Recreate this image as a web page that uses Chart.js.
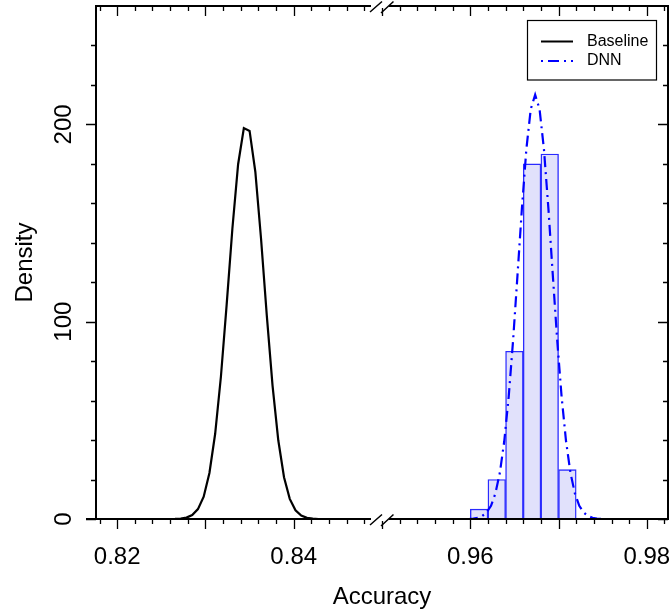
<!DOCTYPE html>
<html>
<head>
<meta charset="utf-8">
<script src="https://cdn.jsdelivr.net/npm/chart.js@4.4.1/dist/chart.umd.min.js"></script>
<style>
  html, body { margin: 0; padding: 0; background: #fff; }
  #wrap { width: 671px; height: 614px; }
</style>
</head>
<body>
<div id="wrap"><canvas id="chart" width="671" height="614"></canvas></div>
<script>
// ---- data ----
const baselineX = [0.818, 0.8259, 0.82655, 0.8272, 0.82785, 0.8285, 0.82915, 0.8298, 0.83045, 0.8311,
  0.83175, 0.8324, 0.83305, 0.8337, 0.83435, 0.835, 0.83565, 0.8363, 0.83695, 0.8376,
  0.83825, 0.8389, 0.83955, 0.8402, 0.84085, 0.8415, 0.84215, 0.8428, 0.85];
const baselineY = [0, 0, 0.05, 0.2, 0.7, 2.0, 5.0, 11.3, 23.3, 43.2,
  72.1, 108.5, 147.1, 179.8, 198.1, 196.7, 176.0, 141.9, 103.1, 67.6,
  39.9, 21.2, 10.2, 4.4, 1.7, 0.6, 0.2, 0, 0];

const dnnX = [0.951, 0.95985, 0.96035, 0.96085, 0.96135, 0.96185, 0.96235, 0.96285, 0.96335, 0.96385,
  0.96435, 0.96485, 0.96535, 0.96585, 0.96635, 0.96685, 0.96735, 0.96785, 0.96835, 0.96885,
  0.96935, 0.96985, 0.97035, 0.97085, 0.97135, 0.97185, 0.97235, 0.97285, 0.97335, 0.97385,
  0.97435, 0.97485, 0.982];
const dnnY = [0, 0, 0.2, 0.6, 1.5, 3.3, 6.7, 13.0, 23.4, 39.4,
  61.8, 90.5, 123.6, 157.4, 187.2, 207.7, 215, 207.7, 187.2, 157.4,
  123.6, 90.5, 61.8, 39.4, 23.4, 13.0, 6.7, 3.3, 1.5, 0.6,
  0.2, 0, 0];

// histogram of DNN accuracies (bin centres, width 0.002)
const histMid = [0.961, 0.963, 0.965, 0.967, 0.969, 0.971];
const histDensity = [5, 20, 85, 180, 185, 25];

const xTickAt = [0.82, 0.84, 0.96, 0.98];
const xTickLabels = ['0.82', '0.84', '0.96', '0.98'];
const yTickAt = [0, 100, 200];
const yTickLabels = ['0', '100', '200'];

// axis break: everything above the gap is shifted left by 0.1
const GAP_AT = 0.85, SHIFT = 0.1;
const brk = v => (v > 0.9 ? v - SHIFT : v);

const FONT = "'Liberation Sans', Arial, sans-serif";
Chart.defaults.font.family = FONT;
Chart.defaults.color = '#000';

function near(a, b) { return Math.abs(a - b) < 1e-7; }

// no extra room for overflowing tick labels
function noPad(s) {
    s.paddingTop = 0; s.paddingBottom = 0; s.paddingLeft = 0; s.paddingRight = 0;
}

// tick marks, frame with break, legend
const framePlugin = {
    id: 'frame',
    afterDraw(chart) {
        const ctx = chart.ctx;
        const { left, right, top, bottom } = chart.chartArea;
        const xs = chart.scales.x, ys = chart.scales.y;
        ctx.save();
        ctx.strokeStyle = '#000';
        ctx.lineCap = 'butt';

        // ticks
        ctx.lineWidth = 1.3;
        ctx.beginPath();
        xs.ticks.forEach(t => {
            const px = Math.round(xs.getPixelForValue(t.value)) + 0.5;
            const major = near(t.value * 100, Math.round(t.value * 100));
            const len = major ? 10 : 5;
            ctx.moveTo(px, bottom); ctx.lineTo(px, bottom + len);
            ctx.moveTo(px, top); ctx.lineTo(px, top + len);
        });
        ys.ticks.forEach(t => {
            const py = Math.round(ys.getPixelForValue(t.value)) + 0.5;
            const len = t.value % 100 === 0 ? 10 : 5;
            ctx.moveTo(left - len, py); ctx.lineTo(left, py);
            ctx.moveTo(right - len, py); ctx.lineTo(right, py);
        });
        ctx.stroke();

        // frame, with a gap at the break
        const gx = xs.getPixelForValue(GAP_AT);
        const gl = gx - 11, gr = gx + 7;
        ctx.fillStyle = '#fff';
        ctx.fillRect(gl, bottom - 2, gr - gl, 4);
        ctx.fillRect(gl, top - 2, gr - gl, 4);
        ctx.lineWidth = 2;
        ctx.beginPath();
        ctx.moveTo(left, top); ctx.lineTo(left, bottom + 1);
        ctx.moveTo(right, top - 1); ctx.lineTo(right, bottom + 1);
        ctx.moveTo(left - 1, top); ctx.lineTo(gl, top);
        ctx.moveTo(gr, top); ctx.lineTo(right + 1, top);
        ctx.moveTo(left - 10, bottom); ctx.lineTo(gl, bottom);
        ctx.moveTo(gr, bottom); ctx.lineTo(right + 1, bottom);
        ctx.stroke();

        // break slashes
        ctx.lineWidth = 1.5;
        ctx.beginPath();
        [top, bottom].forEach(y => {
            ctx.moveTo(gx - 12, y + 6); ctx.lineTo(gx, y - 4.5);
            ctx.moveTo(gx - 1, y + 7); ctx.lineTo(gx + 11.5, y - 4.5);
        });
        ctx.stroke();

        // legend
        const lx = 527.5, ly = 20.5, lw = 129, lh = 59.5;
        ctx.lineWidth = 1.2;
        ctx.strokeRect(lx, ly, lw, lh);
        const rows = [
            { ds: chart.data.datasets[0], y: 41.5 },
            { ds: chart.data.datasets[1], y: 61 }
        ];
        ctx.font = '16px ' + FONT;
        ctx.textBaseline = 'middle';
        ctx.textAlign = 'left';
        rows.forEach(r => {
            ctx.strokeStyle = r.ds.borderColor;
            ctx.lineWidth = 2;
            ctx.setLineDash(r.ds.borderDash || []);
            ctx.beginPath();
            ctx.moveTo(541, r.y); ctx.lineTo(573, r.y);
            ctx.stroke();
            ctx.setLineDash([]);
            ctx.fillStyle = '#000';
            ctx.fillText(r.ds.label, 587, r.y);
        });
        ctx.restore();
    }
};

const xTicks = [];
for (let i = 409; i <= 441; i++) xTicks.push(i / 500);
const yTicks = [];
for (let v = 0; v <= 240; v += 20) yTicks.push(v);

new Chart(document.getElementById('chart').getContext('2d'), {
    data: {
        datasets: [
            {
                type: 'line',
                label: 'Baseline',
                data: baselineX.map((x, i) => ({ x: brk(x), y: baselineY[i] })),
                borderColor: '#000',
                borderWidth: 2.2,
                pointRadius: 0,
                tension: 0,
                fill: false,
                order: 1
            },
            {
                type: 'line',
                label: 'DNN',
                data: dnnX.map((x, i) => ({ x: brk(x), y: dnnY[i] })),
                borderColor: '#0000ff',
                borderWidth: 2.2,
                borderDash: [2, 5, 11, 5],
                pointRadius: 0,
                tension: 0,
                fill: false,
                order: 0
            },
            {
                type: 'bar',
                label: 'hist',
                data: histMid.map((x, i) => ({ x: brk(x), y: histDensity[i] })),
                backgroundColor: '#e1e1fb',
                borderColor: '#2a2aff',
                borderWidth: 1.4,
                borderSkipped: 'bottom',
                barPercentage: 1,
                categoryPercentage: 1,
                order: 2
            }
        ]
    },
    options: {
        responsive: false,
        animation: false,
        devicePixelRatio: 1,
        layout: { padding: { left: 0, right: 3, top: 6, bottom: 0 } },
        plugins: { legend: { display: false }, tooltip: { enabled: false } },
        scales: {
            x: {
                type: 'linear',
                position: 'bottom',
                offset: false,
                min: 0.8176,
                max: 0.8824,
                afterBuildTicks: s => { s.ticks = xTicks.map(v => ({ value: v })); },
                afterFit: s => { s.height = 95; noPad(s); },
                grid: { display: false, drawTicks: false, offset: false },
                border: { display: false },
                ticks: {
                    autoSkip: false,
                    maxRotation: 0,
                    padding: 24,
                    font: { size: 24 },
                    callback: v => {
                        const k = xTickAt.findIndex(a => near(brk(a), v));
                        return k >= 0 ? xTickLabels[k] : '';
                    }
                },
                title: { display: true, text: 'Accuracy', font: { size: 24 }, padding: { top: 0, bottom: 2 } }
            },
            y: {
                type: 'linear',
                min: 0,
                max: 260,
                afterBuildTicks: s => { s.ticks = yTicks.map(v => ({ value: v })); },
                afterFit: s => { s.width = 96; noPad(s); },
                grid: { display: false, drawTicks: false },
                border: { display: false },
                ticks: {
                    autoSkip: false,
                    minRotation: 90,
                    maxRotation: 90,
                    crossAlign: 'center',
                    padding: 11.5,
                    font: { size: 24 },
                    callback: v => {
                        const k = yTickAt.indexOf(v);
                        return k >= 0 ? yTickLabels[k] : '';
                    }
                },
                title: { display: true, text: 'Density', font: { size: 24 }, padding: { top: 10.5, bottom: 0 } }
            }
        }
    },
    plugins: [framePlugin]
});
</script>
</body>
</html>
